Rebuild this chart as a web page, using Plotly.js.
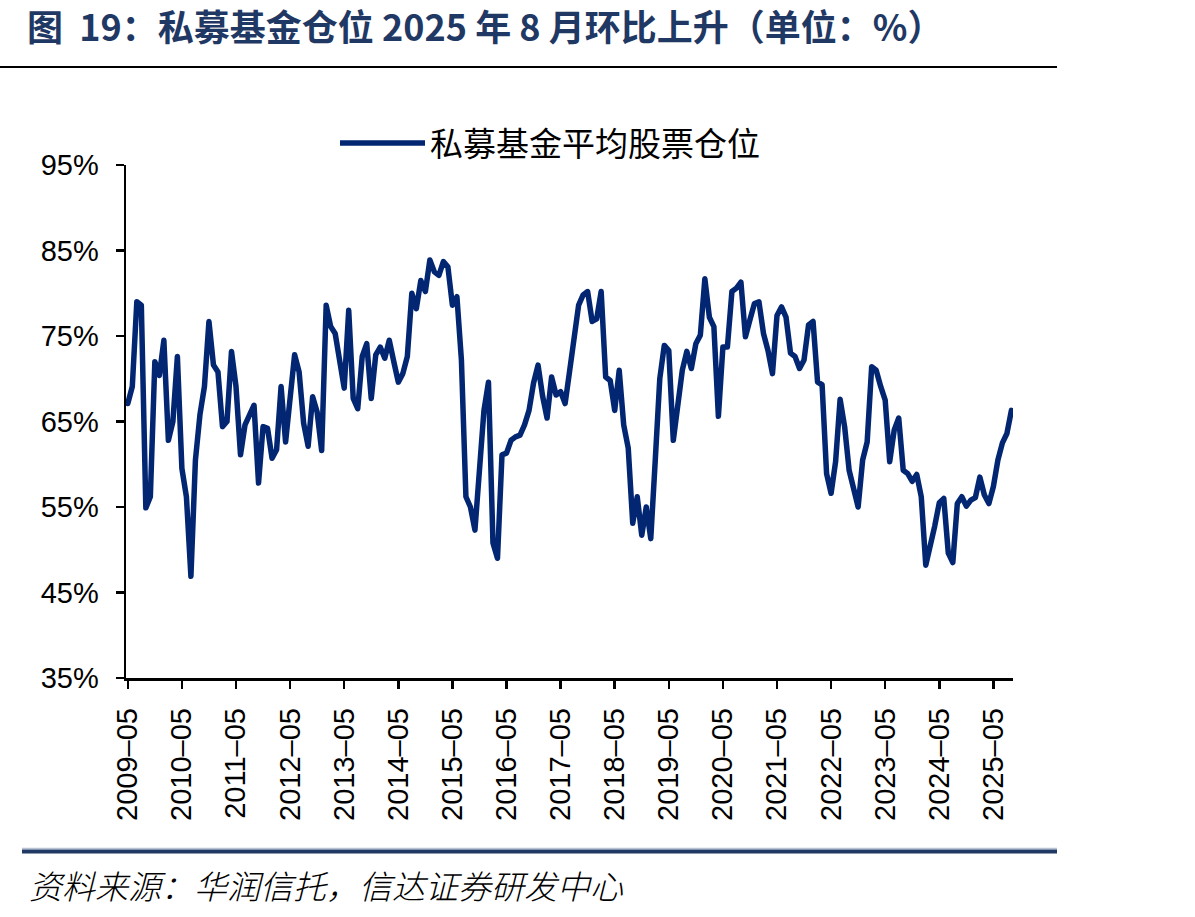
<!DOCTYPE html>
<html>
<head>
<meta charset="utf-8">
<script src="https://cdn.plot.ly/plotly-3.0.1.min.js"></script>
<style>
  html, body { margin: 0; padding: 0; background: #ffffff; }
  #chart { width: 1195px; height: 917px; }
  #chart .scatterlayer .js-line { stroke-linejoin: round; stroke-linecap: round; }
</style>
</head>
<body>
<div id="chart"></div>
<script>
// Monthly average equity position of private funds (%), starting 2009-05
const startYear = 2009;
const startMonth = 5;
const positionPct = [
  67.1, 69.1, 79.0, 78.6, 54.9, 56.2, 72.0, 70.4, 74.5, 62.8, 65.0, 72.6, 59.5, 56.2, 46.9,
  60.5, 65.8, 69.1, 76.7, 71.6, 70.8, 64.4, 65.0, 73.2, 69.1, 61.1, 64.6, 65.8, 66.9, 57.8,
  64.4, 64.2, 60.7, 61.7, 69.1, 62.6, 67.7, 72.8,
  70.8, 64.8, 62.1, 67.9, 66.1, 61.6, 78.6, 76.1, 75.3, 71.8, 68.9, 78.0, 67.7, 66.5, 72.6,
  74.1, 67.7, 72.8, 73.7, 72.4, 74.5, 72.0, 69.6, 70.6, 72.6, 80.0,
  78.2, 81.5, 80.2, 83.9, 82.5, 82.1, 83.7, 83.1, 78.6, 79.6, 72.2, 56.2, 55.0, 52.3, 60.5,
  66.3, 69.6, 50.8, 49.0, 61.1, 61.3, 62.8, 63.2, 63.4, 64.6, 66.3, 69.5, 71.6, 68.0, 65.4, 70.2,
  68.1, 68.5, 67.1, 70.9, 74.8, 78.6, 79.8, 80.2, 76.7, 77.0, 80.2, 70.2, 69.8, 66.3, 71.0,
  64.6, 61.9, 53.1, 56.2, 51.7, 55.0, 51.3, 60.5, 70.0, 73.9, 73.3, 62.8, 67.0, 71.0, 73.2,
  71.2, 74.1, 75.1, 81.7, 77.2, 76.1, 65.6, 73.7, 73.7, 80.2, 80.6, 81.3, 74.9, 76.9, 78.8,
  79.0, 75.3, 73.3, 70.6, 77.4, 78.4, 77.2, 73.0, 72.6, 71.2, 72.2, 76.3, 76.7, 69.6, 69.3,
  58.9, 56.6,
  60.3, 67.6, 64.4, 59.3, 57.3, 55.0, 60.5, 62.6, 71.4, 71.0, 69.1, 67.5, 60.3, 64.0, 65.4,
  59.3, 58.9, 58.0, 58.8, 56.2, 48.2, 50.3, 52.8, 55.5, 56.0,
  49.6, 48.5, 55.4, 56.2, 55.1, 55.8, 56.1, 58.5, 56.4, 55.4, 57.4, 60.5, 62.5, 63.6, 66.3
];

const tickLabels = [
  '2009–05', '2010–05', '2011–05', '2012–05', '2013–05', '2014–05', '2015–05', '2016–05',
  '2017–05', '2018–05', '2019–05', '2020–05', '2021–05', '2022–05', '2023–05', '2024–05', '2025–05'
];
const yTickValues = [35, 45, 55, 65, 75, 85, 95];
const yTickLabels = ['35%', '45%', '55%', '65%', '75%', '85%', '95%'];

const seriesName = '私募基金平均股票仓位';
const titleText = '图\u00a0\u00a019：私募基金仓位 2025 年 8 月环比上升（单位：%）';
const sourceText = '资料来源：华润信托，信达证券研发中心';

// month categories, same "YYYY–MM" form as the tick labels
const months = positionPct.map((_, k) => {
  const m = startMonth - 1 + k;
  const yr = startYear + Math.floor(m / 12);
  const mm = (m % 12) + 1;
  return yr + '–' + String(mm).padStart(2, '0');
});

// page geometry (px)
const W = 1195, H = 917;
const M = { l: 126, r: 182, t: 165, b: 239 };
const PW = W - M.l - M.r, PH = H - M.t - M.b;
const px2x = p => (p - M.l) / PW;
const px2y = p => (H - M.b - p) / PH;

const navy = '#022672';
const titleNavy = '#1f3864';
const tickFont = { family: 'Liberation Sans, Arial, sans-serif', size: 29, color: '#000000' };

const trace = {
  type: 'scatter',
  mode: 'lines',
  x: months,
  y: positionPct,
  name: seriesName,
  line: { color: navy, width: 5.5 },
  hoverinfo: 'skip'
};

const layout = {
  width: W,
  height: H,
  margin: M,
  paper_bgcolor: '#ffffff',
  plot_bgcolor: '#ffffff',
  showlegend: true,
  title: {
    text: titleText,
    xref: 'container', yref: 'container',
    x: 27 / W, xanchor: 'left',
    y: 1 - 28 / H, yanchor: 'middle',
    font: { family: 'Noto Sans CJK SC, sans-serif', size: 36, weight: 'bold', color: titleNavy }
  },
  legend: {
    orientation: 'h',
    x: px2x(335), xanchor: 'left',
    y: px2y(143), yanchor: 'middle',
    itemwidth: 85,
    font: { family: 'Noto Sans CJK SC, sans-serif', size: 33, color: '#000000' },
    bgcolor: 'rgba(0,0,0,0)'
  },
  xaxis: {
    type: 'category',
    categoryorder: 'array',
    categoryarray: months,
    range: [-0.4, positionPct.length - 1 + 0.35],
    tickmode: 'array',
    tickvals: tickLabels,
    ticktext: tickLabels,
    tickangle: -90,
    ticks: 'outside',
    ticklen: 8,
    tickwidth: 2.5,
    tickcolor: '#000000',
    ticklabelstandoff: 8,
    tickfont: tickFont,
    showline: true,
    linecolor: '#000000',
    linewidth: 2.5,
    showgrid: false,
    zeroline: false,
    fixedrange: true
  },
  yaxis: {
    range: [35, 95],
    tickmode: 'array',
    tickvals: yTickValues,
    ticktext: yTickLabels,
    ticks: 'outside',
    ticklen: 8,
    tickwidth: 2.5,
    tickcolor: '#000000',
    ticklabelstandoff: 11,
    tickfont: tickFont,
    showline: true,
    linecolor: '#000000',
    linewidth: 2.5,
    showgrid: false,
    zeroline: false,
    fixedrange: true
  },
  shapes: [
    // rule under the heading
    { type: 'line', xref: 'paper', yref: 'paper',
      x0: px2x(0), x1: px2x(1057), y0: px2y(67), y1: px2y(67),
      line: { color: '#000000', width: 2.2 } },
    // footer rule: light hairline over a heavy navy band
    { type: 'line', xref: 'paper', yref: 'paper',
      x0: px2x(22), x1: px2x(1057), y0: px2y(848.5), y1: px2y(848.5),
      line: { color: '#b8c3d6', width: 1.5 } },
    { type: 'line', xref: 'paper', yref: 'paper',
      x0: px2x(22), x1: px2x(1057), y0: px2y(851.5), y1: px2y(851.5),
      line: { color: titleNavy, width: 4 } }
  ],
  annotations: [
    { text: sourceText, xref: 'paper', yref: 'paper',
      x: px2x(27), xanchor: 'left', y: px2y(885), yanchor: 'middle',
      showarrow: false,
      font: { family: 'Noto Sans CJK SC, sans-serif', size: 33, style: 'italic', weight: 300, color: '#000000' } }
  ]
};

Plotly.newPlot('chart', [trace], layout, { staticPlot: true, displayModeBar: false });
</script>
</body>
</html>
